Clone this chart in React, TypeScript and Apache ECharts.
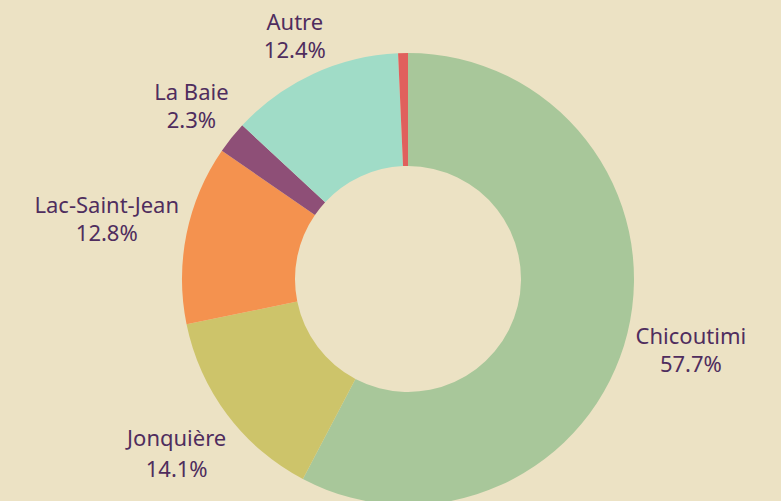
import React, { useEffect, useRef } from "react";
import * as echarts from "echarts";

const categories = ["Chicoutimi", "Jonquière", "Lac-Saint-Jean", "La Baie", "Autre", "Autre (non nommé)"];
const values = [57.7, 14.1, 12.8, 2.3, 12.4, 0.7];
const colors = ["#a8c79a", "#cdc46a", "#f4924f", "#8e4f77", "#a0dcc7", "#e0605d"];
const showLabel = [true, true, true, true, true, false];

export default function App() {
  const ref = useRef<HTMLDivElement>(null);
  useEffect(() => {
    if (!ref.current) return;
    const chart = echarts.init(ref.current, undefined, { renderer: "svg" });
    const cx = 408, cy = 279, R = 226, r = 113, gap = 5;
    const total = values.reduce((a, b) => a + b, 0);
    const mids: number[] = [];
    let cum = 0;
    values.forEach((v) => {
      mids.push(((cum + v / 2) / total) * Math.PI * 2);
      cum += v;
    });
    chart.setOption({
      animation: false,
      backgroundColor: "#ece2c4",
      series: [
        {
          type: "pie",
          center: [cx, cy],
          radius: [r, R],
          startAngle: 90,
          clockwise: true,
          avoidLabelOverlap: false,
          itemStyle: { borderWidth: 0 },
          label: {
            show: true,
            position: "outside",
            color: "#4f2d5e",
            fontFamily: "Noto Sans",
            fontSize: 22,
            lineHeight: 28,
            align: "center",
            formatter: (p: any) => `${p.name}\n${Number(p.value).toFixed(1)}%`,
          },
          labelLine: { show: false },
          labelLayout: (p: any) => {
            const a = mids[p.dataIndex];
            const dx = Math.sin(a), dy = -Math.cos(a);
            const w = p.labelRect.width, h = p.labelRect.height;
            const d = R + gap + (w / 2) * Math.abs(dx) + (h / 2) * Math.abs(dy);
            return { x: cx + d * dx, y: cy + d * dy, align: "center", verticalAlign: "middle" };
          },
          data: categories.map((c, i) => ({
            name: c,
            value: values[i],
            itemStyle: { color: colors[i] },
            label: i === 1 ? { show: showLabel[i], lineHeight: 31 } : { show: showLabel[i] },
          })),
        },
      ],
    });
    return () => chart.dispose();
  }, []);
  return (
    <div
      ref={ref}
      style={{ position: "absolute", left: 0, top: 0, width: 781, height: 501 }}
    />
  );
}
